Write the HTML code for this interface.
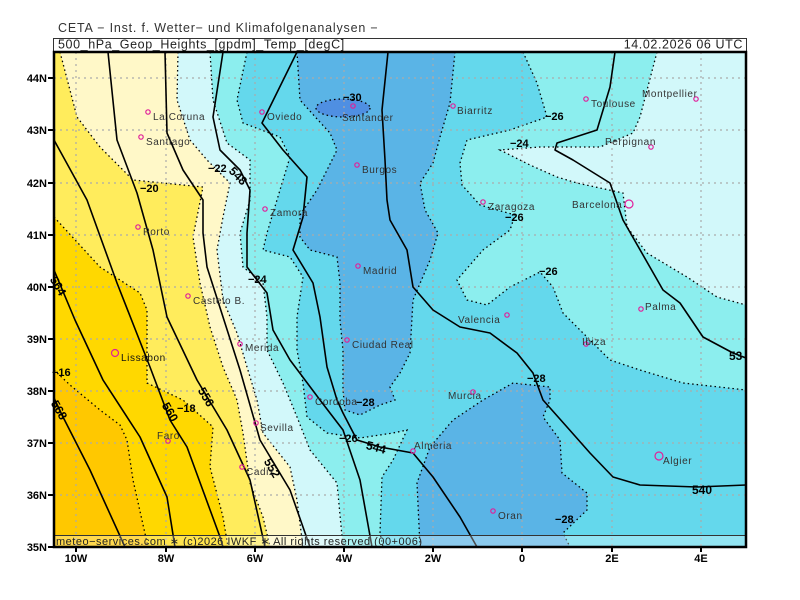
<!DOCTYPE html>
<html><head><meta charset="utf-8"><style>
body{margin:0;background:#fff;}
svg{display:block;font-family:"Liberation Sans",sans-serif;}
</style></head><body>
<svg width="800" height="600" viewBox="0 0 800 600" xmlns="http://www.w3.org/2000/svg">
<rect width="800" height="600" fill="#fff"/>
<text x="58" y="32" font-size="12.5" fill="#333" letter-spacing="0.8">CETA − Inst. f. Wetter− und Klimafolgenanalysen −</text>
<rect x="53.5" y="38.5" width="693" height="14" fill="#fff" stroke="#333"/>
<text x="58" y="48.5" font-size="12.5" fill="#222" letter-spacing="0.6">500_hPa_Geop_Heights_[gpdm]_Temp_[degC]</text>
<text x="743" y="48.5" font-size="12.5" fill="#222" text-anchor="end" letter-spacing="0.6">14.02.2026 06 UTC</text>
<defs><clipPath id="c"><rect x="54" y="52" width="692" height="495"/></clipPath></defs>
<g clip-path="url(#c)">
<rect x="54" y="52" width="692" height="495" fill="#64d8ec"/>
<polygon fill="#8ceeee" points="54,52 247,52 237,100 243,123 280,137 290,157 280,190 267,233 263,250 290,257 303,277 297,317 297,350 303,383 307,417 327,433 360,438 393,433 407,430 393,460 382,477 380,533 383,547 54,547"/>
<polygon fill="#8ceeee" points="523,52 537,83 547,117 510,130 467,140 460,163 462,185 480,205 515,215 510,230 483,250 457,280 467,300 487,305 510,287 540,272 553,287 563,313 590,340 610,360 640,370 683,383 746,390 746,52"/>
<polygon fill="#d2f8fa" points="657,52 640,117 633,133 600,147 540,147 500,150 530,165 557,177 577,183 623,193 627,227 647,253 687,277 717,297 746,305 746,52"/>
<polygon fill="#d2f8fa" points="54,52 210,52 213,100 227,143 250,160 250,200 240,233 243,267 263,283 267,317 267,350 283,383 297,417 310,450 337,483 343,543 343,547 54,547"/>
<polygon fill="#fff8c8" points="54,52 178,52 177,100 190,140 207,160 230,183 223,217 217,250 223,300 237,333 247,367 257,400 263,433 290,467 297,500 303,547 54,547"/>
<polygon fill="#ffec5c" points="54,52 60,52 77,117 100,147 133,180 163,183 203,187 193,237 200,283 210,327 223,367 237,400 243,433 250,483 263,517 270,547 54,547"/>
<polygon fill="#ffd800" points="54,217 100,267 140,293 147,310 147,383 183,400 213,427 210,467 223,517 228,547 54,547"/>
<polygon fill="#ffc800" points="54,370 70,385 100,410 120,425 127,440 133,480 148,547 54,547"/>
<polygon fill="#5ab4e6" points="297,52 300,100 318,120 330,133 337,150 317,190 300,215 300,237 310,250 337,257 340,283 340,320 343,350 343,390 345,410 360,415 380,405 395,400 390,387 400,373 410,353 413,300 430,260 438,233 425,210 420,183 433,163 440,137 450,103 455,52"/>
<polygon fill="#5ab4e6" points="420,547 417,483 430,447 453,420 483,400 513,383 550,387 550,400 543,417 560,440 562,473 587,493 587,510 563,533 570,547"/>
<ellipse cx="343" cy="108" rx="27" ry="9" fill="#4f8fe2"/>
<g fill="none" stroke="#000" stroke-width="1.3" stroke-dasharray="1.5,3">
<polyline points="247,52 237,100 243,123 280,137 290,157 280,190 267,233 263,250 290,257 303,277 297,317 297,350 303,383 307,417 327,433 360,438 393,433 407,430 393,460 382,477 380,533 383,547"/>
<polyline points="523,52 537,83 547,117 510,130 467,140 460,163 462,185 480,205 515,215 510,230 483,250 457,280 467,300 487,305 510,287 540,272 553,287 563,313 590,340 610,360 640,370 683,383 746,390"/>
<polyline points="657,52 640,117 633,133 600,147 540,147 500,150 530,165 557,177 577,183 623,193 627,227 647,253 687,277 717,297 746,305"/>
<polyline points="210,52 213,100 227,143 250,160 250,200 240,233 243,267 263,283 267,317 267,350 283,383 297,417 310,450 337,483 343,547"/>
<polyline points="178,52 177,100 190,140 207,160 230,183 223,217 217,250 223,300 237,333 247,367 257,400 263,433 290,467 297,500 303,547"/>
<polyline points="60,52 77,117 100,147 133,180 163,183 203,187 193,237 200,283 210,327 223,367 237,400 243,433 250,483 263,517 270,547"/>
<polyline points="54,217 100,267 140,293 147,310 147,383 183,400 213,427 210,467 223,517 228,547"/>
<polyline points="54,370 70,385 100,410 120,425 127,440 133,480 148,547"/>
<polygon points="297,52 300,100 318,120 330,133 337,150 317,190 300,215 300,237 310,250 337,257 340,283 340,320 343,350 343,390 345,410 360,415 380,405 395,400 390,387 400,373 410,353 413,300 430,260 438,233 425,210 420,183 433,163 440,137 450,103 455,52"/>
<polyline points="420,547 417,483 430,447 453,420 483,400 513,383 550,387 550,400 543,417 560,440 562,473 587,493 587,510 563,533 570,547"/>
<ellipse cx="343" cy="108" rx="27" ry="9"/>
</g>
<g stroke="#aaa" stroke-width="1.2" stroke-dasharray="2,4">
<line x1="76" y1="52" x2="76" y2="547"/><line x1="166" y1="52" x2="166" y2="547"/><line x1="255" y1="52" x2="255" y2="547"/><line x1="344" y1="52" x2="344" y2="547"/><line x1="433" y1="52" x2="433" y2="547"/><line x1="522" y1="52" x2="522" y2="547"/><line x1="612" y1="52" x2="612" y2="547"/><line x1="701" y1="52" x2="701" y2="547"/>
<line x1="54" y1="78" x2="746" y2="78"/><line x1="54" y1="130" x2="746" y2="130"/><line x1="54" y1="183" x2="746" y2="183"/><line x1="54" y1="235" x2="746" y2="235"/><line x1="54" y1="287" x2="746" y2="287"/><line x1="54" y1="339" x2="746" y2="339"/><line x1="54" y1="391" x2="746" y2="391"/><line x1="54" y1="443" x2="746" y2="443"/><line x1="54" y1="495" x2="746" y2="495"/>
</g>
<g fill="none" stroke="#000" stroke-width="1.6" stroke-linejoin="round">
<polyline points="54,398 62,415 90,470 125,547"/>
<polyline points="54,270 75,320 103,380 140,437 167,497 175,547"/>
<polyline points="54,140 87,200 117,283 150,367 170,420 187,447 220,537 223,547"/>
<polyline points="108,52 117,140 137,193 153,250 167,317 197,380 227,430 250,480 265,547"/>
<polyline points="165,52 167,133 183,170 203,200 203,233 207,267 223,317 240,370 260,440 290,490 310,547"/>
<polyline points="223,52 213,117 220,150 240,170 250,190 247,233 247,267 267,293 273,330 290,360 320,400 343,430 360,480 372,547"/>
<polyline points="297,52 262,123 283,150 307,177 303,217 293,250 313,283 320,317 327,367 337,400 343,413 357,440 380,447 413,453 433,477 460,517 477,547"/>
<polyline points="388,52 382,110 385,160 387,200 390,220 407,250 413,287 433,310 460,327 490,333 517,353 533,373 543,400 567,427 590,453 613,477 640,485 697,487 746,485"/>
<polyline points="615,52 610,87 597,130 557,143 555,150 573,160 610,183 623,220 627,227 663,290 680,303 703,337 733,353 746,358"/>
</g>
<rect x="54" y="535" width="692" height="12" fill="#fff" fill-opacity="0.3"/>
<line x1="54" y1="535.5" x2="746" y2="535.5" stroke="#333"/>
<text x="56" y="545" font-size="11" fill="#222" letter-spacing="0.5">meteo−services.com ∗ (c)2026 IWKF ∗ All rights reserved (00+006)</text>
</g>
<g font-size="12" font-weight="bold" fill="#000">
<text x="228" y="180" transform="rotate(45 238 176)">548</text>
<text x="262" y="472" transform="rotate(60 272 468)">552</text>
<text x="196" y="401" transform="rotate(60 206 397)">556</text>
<text x="160" y="416" transform="rotate(60 170 412)">560</text>
<text x="48" y="290" transform="rotate(60 58 286)">564</text>
<text x="49" y="414" transform="rotate(60 59 410)">568</text>
<text x="366" y="452" transform="rotate(15 378 448)">544</text>
<text x="692" y="494">540</text>
<text x="729" y="360">53</text>
<g font-size="11">
<text x="343" y="101">−30</text><text x="208" y="172">−22</text><text x="140" y="192">−20</text>
<text x="248" y="283">−24</text><text x="545" y="120">−26</text><text x="510" y="147">−24</text>
<text x="505" y="221">−26</text><text x="539" y="275">−26</text><text x="527" y="382">−28</text>
<text x="356" y="406">−28</text><text x="339" y="442">−26</text><text x="177" y="412">−18</text>
<text x="52" y="376">−16</text><text x="555" y="523">−28</text>
</g></g>
<g fill="none" stroke="#e0209a" stroke-width="1.2">
<circle cx="148" cy="112" r="2.2"/><circle cx="141" cy="137" r="2.2"/><circle cx="262" cy="112" r="2.2"/><circle cx="353" cy="106" r="2.2"/><circle cx="357" cy="165" r="2.2"/><circle cx="453" cy="106" r="2.2"/><circle cx="586" cy="99" r="2.2"/><circle cx="696" cy="99" r="2.2"/><circle cx="651" cy="147" r="2.2"/><circle cx="629" cy="204" r="4"/><circle cx="483" cy="202" r="2.2"/><circle cx="265" cy="209" r="2.2"/><circle cx="138" cy="227" r="2.2"/><circle cx="358" cy="266" r="2.2"/><circle cx="188" cy="296" r="2.2"/><circle cx="507" cy="315" r="2.2"/><circle cx="641" cy="309" r="2.2"/><circle cx="586" cy="344" r="2.2"/><circle cx="240" cy="344" r="2.2"/><circle cx="347" cy="340" r="2.2"/><circle cx="115" cy="353" r="3.5"/><circle cx="473" cy="392" r="2.2"/><circle cx="310" cy="397" r="2.2"/><circle cx="256" cy="423" r="2.2"/><circle cx="413" cy="451" r="2.2"/><circle cx="168" cy="441" r="2.2"/><circle cx="242" cy="467" r="2.2"/><circle cx="659" cy="456" r="4"/><circle cx="493" cy="511" r="2.2"/>
</g>
<g font-size="10" fill="#333" letter-spacing="0.6">
<text x="153" y="120">La Coruna</text><text x="146" y="145">Santiago</text><text x="267" y="120">Oviedo</text><text x="342" y="121">Santander</text><text x="362" y="173">Burgos</text><text x="457" y="114">Biarritz</text><text x="591" y="107">Toulouse</text><text x="642" y="97">Montpellier</text><text x="605" y="145">Perpignan</text><text x="572" y="208">Barcelona</text><text x="488" y="210">Zaragoza</text><text x="270" y="216">Zamora</text><text x="143" y="235">Porto</text><text x="363" y="274">Madrid</text><text x="193" y="304">Castelo B.</text><text x="458" y="323">Valencia</text><text x="645" y="310">Palma</text><text x="582" y="345">Ibiza</text><text x="245" y="351">Merida</text><text x="352" y="348">Ciudad Real</text><text x="121" y="361" fill="#111">Lissabon</text><text x="448" y="399">Murcia</text><text x="315" y="405">Cordoba</text><text x="260" y="431">Sevilla</text><text x="414" y="449">Almeria</text><text x="157" y="439">Faro</text><text x="246" y="475">Cadiz</text><text x="663" y="464">Algier</text><text x="498" y="519">Oran</text>
</g>
<rect x="54" y="52" width="692" height="495" fill="none" stroke="#000" stroke-width="2.5"/>
<g stroke="#000" stroke-width="2">
<line x1="48" y1="78" x2="54" y2="78"/><line x1="48" y1="130" x2="54" y2="130"/><line x1="48" y1="183" x2="54" y2="183"/><line x1="48" y1="235" x2="54" y2="235"/><line x1="48" y1="287" x2="54" y2="287"/><line x1="48" y1="339" x2="54" y2="339"/><line x1="48" y1="391" x2="54" y2="391"/><line x1="48" y1="443" x2="54" y2="443"/><line x1="48" y1="495" x2="54" y2="495"/><line x1="48" y1="547" x2="54" y2="547"/>
<line x1="76" y1="547" x2="76" y2="552"/><line x1="166" y1="547" x2="166" y2="552"/><line x1="255" y1="547" x2="255" y2="552"/><line x1="344" y1="547" x2="344" y2="552"/><line x1="433" y1="547" x2="433" y2="552"/><line x1="522" y1="547" x2="522" y2="552"/><line x1="612" y1="547" x2="612" y2="552"/><line x1="701" y1="547" x2="701" y2="552"/>
</g>
<g font-size="11" font-weight="bold" fill="#000" text-anchor="end">
<text x="47" y="82">44N</text><text x="47" y="134">43N</text><text x="47" y="187">42N</text><text x="47" y="239">41N</text><text x="47" y="291">40N</text><text x="47" y="343">39N</text><text x="47" y="395">38N</text><text x="47" y="447">37N</text><text x="47" y="499">36N</text><text x="47" y="551">35N</text>
</g>
<g font-size="11" font-weight="bold" fill="#000" text-anchor="middle">
<text x="76" y="562">10W</text><text x="166" y="562">8W</text><text x="255" y="562">6W</text><text x="344" y="562">4W</text><text x="433" y="562">2W</text><text x="522" y="562">0</text><text x="612" y="562">2E</text><text x="701" y="562">4E</text>
</g>
</svg>
</body></html>
